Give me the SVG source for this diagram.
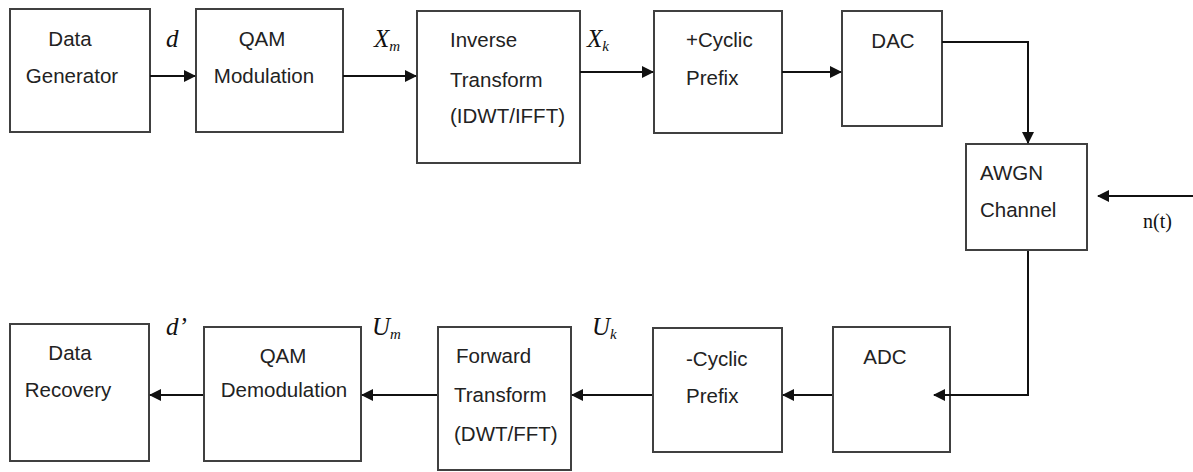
<svg xmlns="http://www.w3.org/2000/svg" width="1193" height="472" viewBox="0 0 1193 472">
<style>
.box{fill:#fff;stroke:#404040;stroke-width:2}
.t{font-family:"Liberation Sans",Arial,sans-serif;font-size:20.5px;fill:#222}
.m{font-family:"Liberation Serif","Times New Roman",serif;font-style:italic;font-size:25px;fill:#111}
.s{font-family:"Liberation Serif","Times New Roman",serif;font-style:italic;font-size:15px;fill:#111}
.c{stroke:#111;stroke-width:2;fill:none}
</style>
<defs>
<marker id="ah" markerWidth="12" markerHeight="12" refX="11" refY="6" orient="auto" markerUnits="userSpaceOnUse">
<path d="M0,0 L12,6 L0,12 Z" fill="#111"/>
</marker>
</defs>
<rect width="1193" height="472" fill="#fff"/>
<g id="data-generator">
<rect class="box" x="10" y="9" width="140" height="123"/>
<text class="t" x="70" y="46" text-anchor="middle">Data</text>
<text class="t" x="72" y="83" text-anchor="middle">Generator</text>
</g>
<g id="qam-mod">
<rect class="box" x="196" y="9" width="147" height="123"/>
<text class="t" x="262" y="46" text-anchor="middle">QAM</text>
<text class="t" x="264" y="83" text-anchor="middle">Modulation</text>
</g>
<g id="inverse-transform">
<rect class="box" x="417" y="11" width="163" height="152"/>
<text class="t" x="450" y="47">Inverse</text>
<text class="t" x="450" y="87">Transform</text>
<text class="t" x="450" y="123">(IDWT/IFFT)</text>
</g>
<g id="add-cp">
<rect class="box" x="654" y="11" width="128" height="122"/>
<text class="t" x="686" y="47">+Cyclic</text>
<text class="t" x="686" y="85">Prefix</text>
</g>
<g id="dac">
<rect class="box" x="842" y="11" width="100" height="115"/>
<text class="t" x="893" y="48" text-anchor="middle">DAC</text>
</g>
<g id="awgn">
<rect class="box" x="966" y="144" width="121" height="106"/>
<text class="t" x="980" y="180">AWGN</text>
<text class="t" x="980" y="217">Channel</text>
</g>
<g id="noise">
<text x="1143" y="228" font-family="Liberation Serif,'Times New Roman',serif" font-size="20" fill="#111">n(t)</text>
</g>
<g id="adc">
<rect class="box" x="833" y="327" width="117" height="125"/>
<text class="t" x="885" y="364" text-anchor="middle">ADC</text>
</g>
<g id="remove-cp">
<rect class="box" x="653" y="328" width="129" height="124"/>
<text class="t" x="686" y="366">-Cyclic</text>
<text class="t" x="686" y="403">Prefix</text>
</g>
<g id="forward-transform">
<rect class="box" x="438" y="327" width="133" height="143"/>
<text class="t" x="456" y="363">Forward</text>
<text class="t" x="454" y="402">Transform</text>
<text class="t" x="454" y="441">(DWT/FFT)</text>
</g>
<g id="qam-demod">
<rect class="box" x="204" y="327" width="157" height="134"/>
<text class="t" x="283" y="363" text-anchor="middle">QAM</text>
<text class="t" x="284" y="397" text-anchor="middle">Demodulation</text>
</g>
<g id="data-recovery">
<rect class="box" x="10" y="324" width="139" height="137"/>
<text class="t" x="70" y="360" text-anchor="middle">Data</text>
<text class="t" x="68" y="397" text-anchor="middle">Recovery</text>
</g>
<g id="connectors">
<line class="c" x1="150" y1="76" x2="195" y2="76" marker-end="url(#ah)"/>
<line class="c" x1="343" y1="76" x2="416" y2="76" marker-end="url(#ah)"/>
<line class="c" x1="580" y1="72" x2="653" y2="72" marker-end="url(#ah)"/>
<line class="c" x1="782" y1="72" x2="841" y2="72" marker-end="url(#ah)"/>
<polyline class="c" points="942,42 1028,42 1028,143" marker-end="url(#ah)"/>
<line class="c" x1="1193" y1="196" x2="1098" y2="196" marker-end="url(#ah)"/>
<polyline class="c" points="1028,251 1028,395 934,395" marker-end="url(#ah)"/>
<line class="c" x1="832" y1="395" x2="783" y2="395" marker-end="url(#ah)"/>
<line class="c" x1="652" y1="395" x2="572" y2="395" marker-end="url(#ah)"/>
<line class="c" x1="437" y1="395" x2="362" y2="395" marker-end="url(#ah)"/>
<line class="c" x1="203" y1="395" x2="150" y2="395" marker-end="url(#ah)"/>
</g>
<g id="labels">
<text class="m" x="166" y="47">d</text>
<text class="m" x="374" y="47">X<tspan class="s" dy="4">m</tspan></text>
<text class="m" x="587" y="47">X<tspan class="s" dy="4">k</tspan></text>
<text class="m" x="166" y="335">d’</text>
<text class="m" x="372" y="335">U<tspan class="s" dy="4">m</tspan></text>
<text class="m" x="592" y="335">U<tspan class="s" dy="4">k</tspan></text>
</g>
</svg>
